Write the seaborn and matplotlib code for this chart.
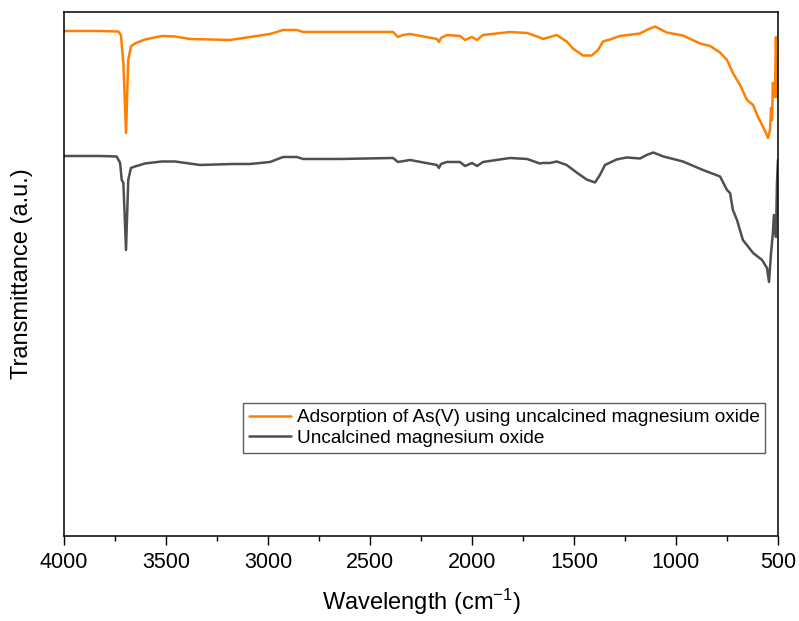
import numpy as np
import pandas as pd
import matplotlib
matplotlib.use("Agg")
import matplotlib.pyplot as plt
import seaborn as sns

# FTIR spectra (wavenumber in cm^-1, transmittance in arbitrary units)
wn_adsorbed = [4000, 3824, 3734, 3721, 3709, 3696, 3685, 3672, 3652, 3603,
               3521, 3456, 3382, 3186, 3088, 2990, 2926, 2858, 2828, 2662,
               2387, 2363, 2338, 2304, 2172, 2162, 2152, 2123, 2059, 2034,
               2000, 1975, 1946, 1814, 1730, 1667, 1652, 1618, 1585, 1536,
               1505, 1456, 1413, 1382, 1358, 1324, 1275, 1176, 1144, 1103,
               1046, 966, 882, 833, 784, 750, 721, 686, 652, 622,
               598, 573, 559, 549, 539, 534, 529, 525, 515, 510, 505, 500]
t_adsorbed = [101.0, 101.0, 100.9, 100.2, 94.6, 80.6, 95.2, 97.9, 98.5, 99.3,
              100.0, 99.9, 99.4, 99.2, 99.8, 100.4, 101.2, 101.2, 100.8, 100.8,
              100.8, 99.8, 100.2, 100.4, 99.4, 98.8, 99.6, 100.2, 100.0, 99.2,
              99.8, 99.2, 100.2, 100.8, 100.6, 99.7, 99.4, 99.8, 100.2, 98.9,
              97.5, 96.1, 96.1, 97.2, 98.9, 99.3, 100.0, 100.5, 101.2, 101.9,
              100.7, 100.1, 98.5, 98.0, 96.7, 95.2, 92.6, 90.2, 87.2, 86.2,
              83.8, 81.8, 80.6, 79.6, 81.2, 85.6, 83.2, 90.6, 87.8, 99.8, 87.8, 95.2]

wn_mgo = [4000, 3824, 3742, 3725, 3717, 3709, 3696, 3685, 3672, 3652,
          3603, 3521, 3456, 3333, 3172, 3088, 2990, 2926, 2858, 2828,
          2647, 2387, 2363, 2304, 2172, 2162, 2152, 2123, 2059, 2034,
          2000, 1975, 1946, 1814, 1730, 1667, 1652, 1618, 1585, 1536,
          1487, 1438, 1397, 1373, 1348, 1291, 1242, 1176, 1144, 1111,
          1062, 966, 868, 784, 750, 735, 721, 701, 672, 622,
          578, 554, 544, 534, 525, 520, 510, 505, 500]
t_mgo = [76.0, 76.0, 75.9, 74.6, 71.2, 70.6, 57.2, 71.2, 73.6, 73.9,
         74.5, 74.9, 74.9, 74.2, 74.4, 74.4, 74.8, 75.8, 75.8, 75.4,
         75.4, 75.6, 74.8, 75.2, 74.2, 73.6, 74.4, 74.8, 74.8, 74.0,
         74.6, 74.0, 74.8, 75.6, 75.4, 74.5, 74.6, 74.6, 74.9, 74.2,
         72.7, 71.3, 70.7, 72.2, 74.2, 75.3, 75.7, 75.5, 76.2, 76.7,
         75.9, 74.9, 73.2, 71.9, 69.2, 68.6, 65.2, 63.2, 59.2, 56.6,
         55.2, 53.6, 50.8, 56.6, 60.6, 64.2, 59.8, 70.6, 75.2]

label_adsorbed = "Adsorption of As(V) using uncalcined magnesium oxide"
label_mgo = "Uncalcined magnesium oxide"
x_ticks = [4000, 3500, 3000, 2500, 2000, 1500, 1000, 500]

df = pd.concat([
    pd.DataFrame({"wavenumber": wn_adsorbed, "T": t_adsorbed, "sample": label_adsorbed}),
    pd.DataFrame({"wavenumber": wn_mgo, "T": t_mgo, "sample": label_mgo}),
], ignore_index=True)

sns.set_theme(style="ticks")
plt.rcParams["font.family"] = ["Liberation Sans", "DejaVu Sans"]
plt.rcParams["mathtext.fontset"] = "custom"
plt.rcParams["mathtext.rm"] = "Liberation Sans"
plt.rcParams["mathtext.it"] = "Liberation Sans:italic"
plt.rcParams["text.color"] = "black"
plt.rcParams["axes.labelcolor"] = "black"
plt.rcParams["xtick.color"] = "black"
plt.rcParams["xtick.labelcolor"] = "black"

fig = plt.figure(figsize=(7.99, 6.21), dpi=100)
ax = fig.add_axes([0.0801, 0.1369, 0.8936, 0.8438])

palette = {label_adsorbed: "#FF8000", label_mgo: "#4F4F4F"}
sns.lineplot(data=df, x="wavenumber", y="T", hue="sample", palette=palette,
             linewidth=1.8, estimator=None, sort=False, ax=ax)

ax.set_xlim(4000, 500)
ax.set_ylim(0, 104.8)
ax.set_xticks(x_ticks)
ax.set_xticks(np.arange(3750, 500, -500), minor=True)
ax.set_xticklabels([str(t) for t in x_ticks], fontsize=15.5, color="black")
ax.set_yticks([])
ax.tick_params(axis="x", which="major", direction="out", length=6.5, width=1.0,
               pad=5, color="black")
ax.tick_params(axis="x", which="minor", direction="out", length=3.5, width=1.0,
               color="black")
for s in ax.spines.values():
    s.set_visible(True)
    s.set_linewidth(1.1)
    s.set_color("black")

ax.set_xlabel("Wavelength (cm$^{-1}$)", fontsize=17, labelpad=10, color="black")
ax.set_ylabel("Transmittance (a.u.)", fontsize=17, labelpad=22, color="black")

leg = ax.legend(loc="upper left", bbox_to_anchor=(0.2511, 0.2532),
                borderaxespad=0, fontsize=13.7, frameon=True, fancybox=False,
                handlelength=2.2, handletextpad=0.3, labelspacing=0.17,
                borderpad=0.3, title=None)
leg.get_frame().set_edgecolor("#333333")
leg.get_frame().set_linewidth(1.0)
for h in leg.get_lines():
    h.set_linewidth(1.8)
for t in leg.get_texts():
    t.set_color("black")

fig.savefig("out.png", dpi=100)
